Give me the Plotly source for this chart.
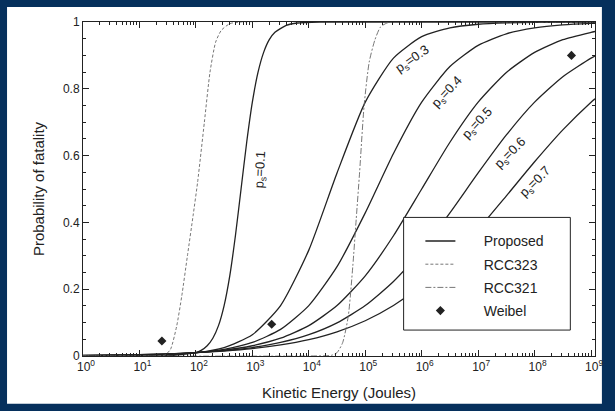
import plotly.graph_objects as go

# ---------------- data ----------------
# kinetic energy given as log10(Joules)
ke_exp_steep = [0, 1, 1.5, 2, 2.1, 2.2, 2.3, 2.4, 2.5, 2.6, 2.7, 2.8, 2.9, 3.0, 3.1,
                3.2, 3.3, 3.4, 3.6, 3.8, 4.2, 5, 9.07]
p_ps01 = [0.0, 0.00003, 0.0006, 0.0099, 0.0175, 0.0307, 0.0532, 0.0909, 0.151, 0.240,
          0.360, 0.500, 0.640, 0.760, 0.849, 0.909, 0.947, 0.969, 0.990, 0.997,
          0.9997, 1.0, 1.0]

ke_exp = [0, 1, 1.5, 2, 2.5, 3, 3.5, 4, 4.5, 5, 5.5, 6, 6.5, 7, 7.5, 8, 8.5, 9, 9.07]
p_ps03 = [0.0002, 0.0015, 0.0038, 0.0099, 0.0254, 0.0638, 0.151, 0.317, 0.548, 0.760,
          0.892, 0.956, 0.9825, 0.9932, 0.9974, 0.999, 0.9996, 0.9998, 0.9999]
p_ps04 = [0.0006, 0.0024, 0.0049, 0.0099, 0.0201, 0.0405, 0.0797, 0.151, 0.2675, 0.4285,
          0.6064, 0.760, 0.8666, 0.930, 0.9648, 0.9825, 0.9914, 0.9958, 0.9962]
p_ps05 = [0.0010, 0.0032, 0.0056, 0.0099, 0.0175, 0.0307, 0.0532, 0.0909, 0.151, 0.240,
          0.360, 0.500, 0.640, 0.760, 0.849, 0.909, 0.947, 0.969, 0.9716]
p_ps06 = [0.0015, 0.0038, 0.0062, 0.0099, 0.0159, 0.0254, 0.0405, 0.0638, 0.0992, 0.151,
          0.2231, 0.317, 0.4285, 0.548, 0.6618, 0.760, 0.8363, 0.892, 0.8983]
p_ps07 = [0.0019, 0.0044, 0.0066, 0.0099, 0.0149, 0.0222, 0.0332, 0.0492, 0.0725, 0.1055,
          0.151, 0.2115, 0.2881, 0.3791, 0.4795, 0.5815, 0.677, 0.760, 0.770]

proposed_ps = ["0.1", "0.3", "0.4", "0.5", "0.6", "0.7"]

rcc323_exp = [0, 1.0, 1.45, 1.55, 1.66, 1.75, 1.85, 1.95, 2.03, 2.15, 2.25, 2.35, 2.45,
              2.6, 2.8, 9.07]
rcc323_p = [0.0, 0.0, 0.003, 0.02, 0.09, 0.18, 0.30, 0.42, 0.52, 0.70, 0.85, 0.94, 0.975,
            0.995, 1.0, 1.0]

rcc321_exp = [0, 4.0, 4.4, 4.5, 4.6, 4.7, 4.78, 4.84, 4.9, 4.98, 5.07, 5.17, 5.27, 5.4,
              5.6, 9.07]
rcc321_p = [0.0, 0.0, 0.002, 0.01, 0.04, 0.12, 0.27, 0.41, 0.55, 0.75, 0.88, 0.946,
            0.985, 0.998, 1.0, 1.0]

weibel_energy = [25, 2200, 4.5e8]
weibel_p = [0.045, 0.095, 0.90]

x_tick_exp = list(range(0, 10))
y_tick_vals = [0, 0.2, 0.4, 0.6, 0.8, 1]
y_tick_text = ["0", "0.2", "0.4", "0.6", "0.8", "1"]

# label positions for the p_s annotations (log10 energy, probability)
label_exp = [3.15, 5.84, 6.45, 6.99, 7.57, 8.01]
label_p = [0.558, 0.887, 0.788, 0.696, 0.606, 0.519]
label_angle = [-87, -35, -47, -47, -45, -45]

# ---------------- figure ----------------
INK = "#222222"
FONT = "Liberation Sans, Arial, sans-serif"
PAD = "\u00a0" * 6  # gap between legend symbol and legend text

def to_joules(exps):
    return [10 ** e for e in exps]

fig = go.Figure()

proposed_sets = [(ke_exp_steep, p_ps01), (ke_exp, p_ps03), (ke_exp, p_ps04),
                 (ke_exp, p_ps05), (ke_exp, p_ps06), (ke_exp, p_ps07)]
for i, (xe, yv) in enumerate(proposed_sets):
    fig.add_trace(go.Scatter(
        x=to_joules(xe), y=yv, mode="lines",
        line=dict(color=INK, width=1.3, shape="spline", smoothing=0.6),
        name=PAD + "Proposed", legendgroup="proposed", showlegend=(i == 0)))

fig.add_trace(go.Scatter(
    x=to_joules(rcc323_exp), y=rcc323_p, mode="lines",
    line=dict(color="#666666", width=0.9, dash="3px,2px", shape="spline", smoothing=0.6),
    name=PAD + "RCC323", legendgroup="rcc323"))

fig.add_trace(go.Scatter(
    x=to_joules(rcc321_exp), y=rcc321_p, mode="lines",
    line=dict(color="#666666", width=0.9, dash="6px,2px,2px,2px", shape="spline", smoothing=0.6),
    name=PAD + "RCC321", legendgroup="rcc321"))

fig.add_trace(go.Scatter(
    x=weibel_energy, y=weibel_p, mode="markers",
    marker=dict(symbol="diamond", size=7, color=INK),
    name=PAD + "Weibel", legendgroup="weibel"))

for ps, le, lp, ang in zip(proposed_ps, label_exp, label_p, label_angle):
    fig.add_annotation(x=le, y=lp, xref="x", yref="y",
                       text="p<sub>s</sub>=" + ps, showarrow=False,
                       textangle=ang, font=dict(family=FONT, size=13, color=INK))

# plot area: left 83, right 602, top 22, bottom 357 (in a 615x411 page)
L, R, T, B = 83, 13, 22, 54
W, H = 615, 411
pw, ph = W - L - R, H - T - B

def px_x(v):
    return (v - L) / pw

def px_y(v):
    return (H - B - v) / ph

# white card on the navy page
fig.add_shape(type="rect", xref="paper", yref="paper", layer="below",
              x0=px_x(6), x1=px_x(609), y0=px_y(405), y1=px_y(7),
              fillcolor="white", line=dict(width=0))
# legend frame
fig.add_shape(type="rect", xref="paper", yref="paper", layer="above",
              x0=px_x(408), x1=px_x(577), y0=px_y(331), y1=px_y(218),
              fillcolor="white", line=dict(width=1, color=INK))

fig.update_layout(
    width=W, height=H,
    margin=dict(l=L, r=R, t=T, b=B),
    paper_bgcolor="#06305c", plot_bgcolor="white",
    font=dict(family=FONT, size=12, color=INK),
    showlegend=True,
    legend=dict(x=px_x(425), y=px_y(226), xanchor="left", yanchor="top",
                bgcolor="rgba(0,0,0,0)", borderwidth=0,
                font=dict(family=FONT, size=14, color=INK),
                tracegroupgap=2, itemwidth=30),
)

fig.update_xaxes(
    type="log", range=[0, 9.07],
    tickmode="array", tickvals=to_joules(x_tick_exp),
    ticktext=["10<sup>%d</sup>" % e for e in x_tick_exp],
    ticks="inside", ticklen=6, tickcolor=INK, tickwidth=1,
    showline=True, linecolor=INK, linewidth=1, mirror="ticks",
    showgrid=False, zeroline=False, ticklabelshift=3,
    minor=dict(ticks="inside", ticklen=3, tickcolor=INK, dtick="D1", showgrid=False),
    tickfont=dict(size=12, color=INK),
    title=dict(text="Kinetic Energy (Joules)", font=dict(size=15, color=INK), standoff=14),
)
fig.update_yaxes(
    range=[0, 1],
    tickmode="array", tickvals=y_tick_vals, ticktext=y_tick_text,
    ticks="inside", ticklen=6, tickcolor=INK, tickwidth=1,
    showline=True, linecolor=INK, linewidth=1, mirror="ticks",
    showgrid=False, zeroline=False,
    minor=dict(ticks="inside", ticklen=3, tickcolor=INK, dtick=0.05, showgrid=False),
    tickfont=dict(size=12, color=INK),
    title=dict(text="Probability of fatality", font=dict(size=15, color=INK), standoff=14),
)

fig.write_html("out.html", config={"displayModeBar": False})

# remove the browser's default 8px page margin so the figure sits at the top-left
with open("out.html", "r", encoding="utf-8") as fh:
    page = fh.read()
page = page.replace("<body>", '<body style="margin:0;">', 1)
with open("out.html", "w", encoding="utf-8") as fh:
    fh.write(page)
